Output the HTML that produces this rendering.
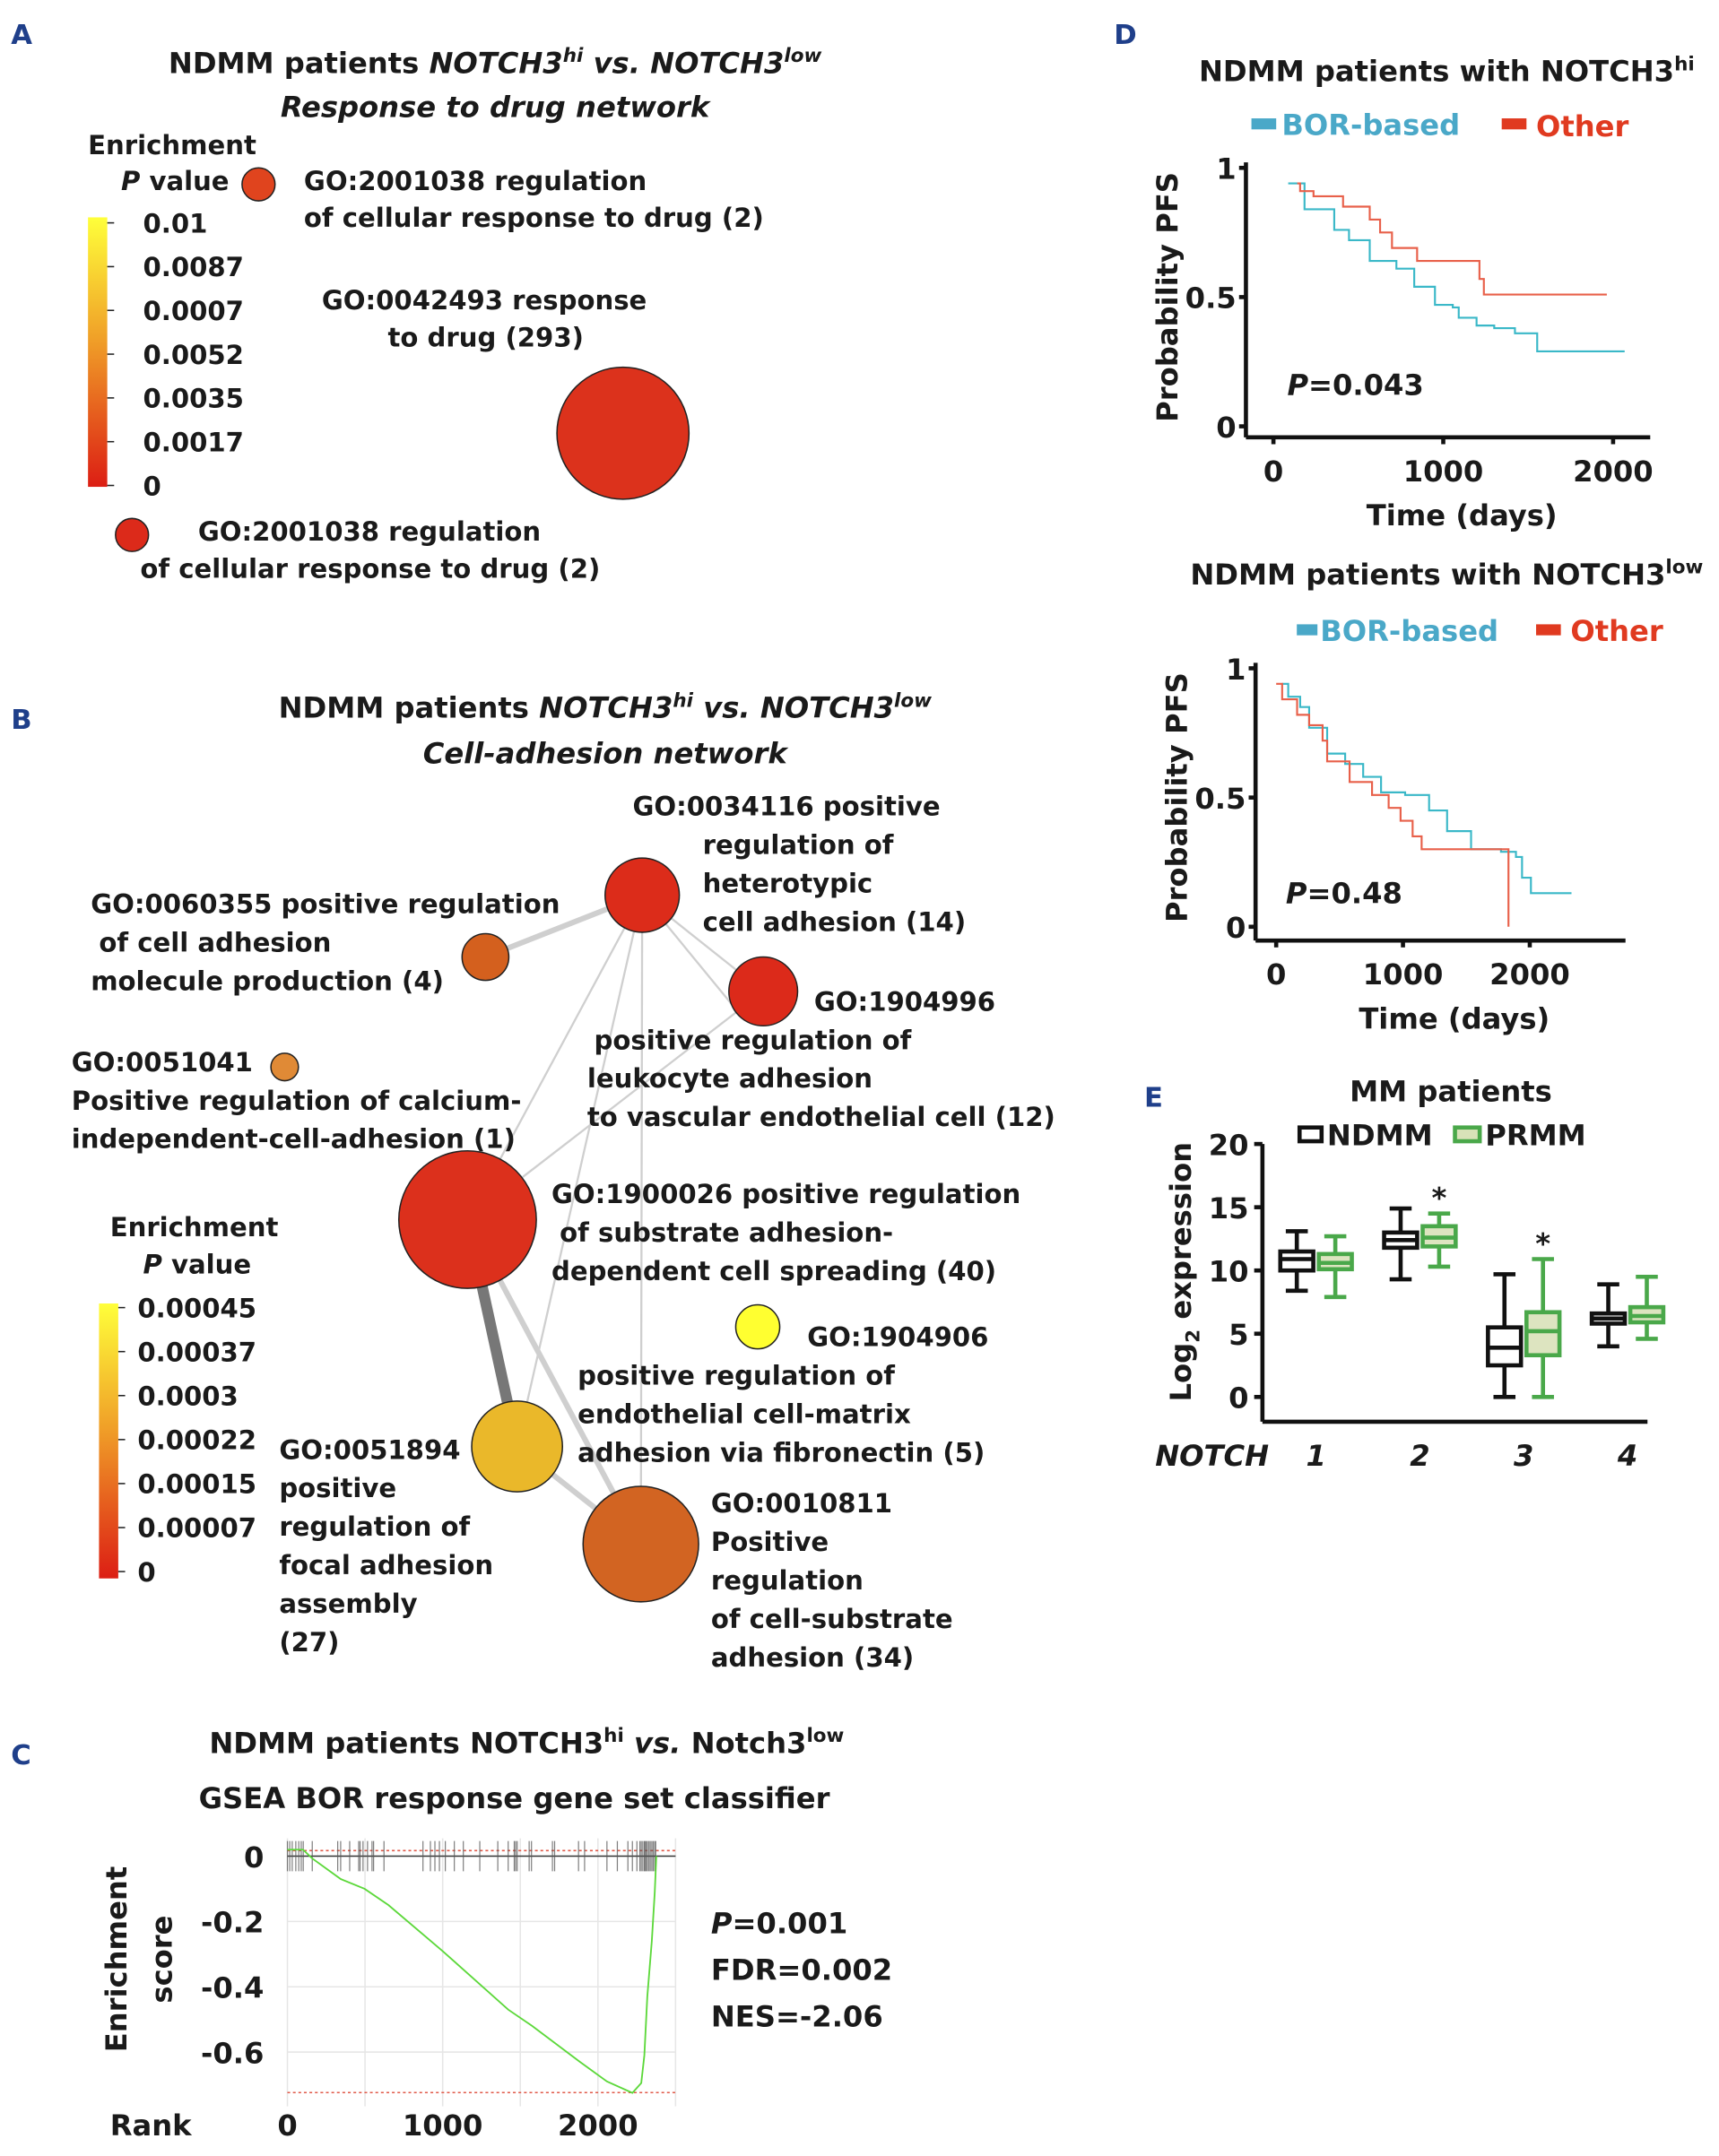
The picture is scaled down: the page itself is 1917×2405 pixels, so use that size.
<!DOCTYPE html>
<html><head><meta charset="utf-8"><style>
html,body{margin:0;padding:0;background:#fff}
svg{display:block}
text{font-family:"DejaVu Sans","Liberation Sans",sans-serif;font-weight:bold;fill:#1a1a1a}
.pl{fill:#1f3f8a;font-size:20px}
.t{font-size:21px}
.n{font-size:19px}
</style></head><body>
<svg id="fig" width="1917" height="2405" viewBox="0 0 1250 1568" xmlns="http://www.w3.org/2000/svg">
<defs>
<linearGradient id="gA" x1="0" y1="0" x2="0" y2="1"><stop offset="0" stop-color="#ffff3a"/><stop offset="0.45" stop-color="#f0a028"/><stop offset="1" stop-color="#dc1e14"/></linearGradient>
</defs>
<!-- Panel A -->
<g>
<text class="pl" x="8" y="32">A</text>
<text class="t" x="360" y="53" text-anchor="middle">NDMM patients <tspan font-style="italic">NOTCH3<tspan font-size="14" dy="-8">hi</tspan><tspan dy="8"> vs. NOTCH3</tspan><tspan font-size="14" dy="-8">low</tspan></tspan></text>
<text class="t" x="360" y="85" text-anchor="middle" font-style="italic">Response to drug network</text>
<text class="n" x="64" y="112">Enrichment</text>
<text class="n" x="88" y="138"><tspan font-style="italic">P</tspan> value</text>
<rect x="64" y="158" width="14" height="196" fill="url(#gA)"/>
<g id="cbA"></g>
<circle cx="188" cy="134" r="12" fill="#e0441e" stroke="#222" stroke-width="1"/>
<circle cx="453" cy="315" r="48" fill="#dc321c" stroke="#222" stroke-width="1"/>
<circle cx="96" cy="389" r="12" fill="#dc2a1a" stroke="#222" stroke-width="1"/>
<text class="n" x="221" y="138">GO:2001038 regulation</text>
<text class="n" x="221" y="165">of cellular response to drug (2)</text>
<text class="n" x="234" y="225">GO:0042493 response</text>
<text class="n" x="282" y="252">to drug (293)</text>
<text class="n" x="144" y="393">GO:2001038 regulation</text>
<text class="n" x="102" y="420">of cellular response to drug (2)</text>
</g>
<!-- Panel B -->
<g>
<text class="pl" x="8" y="530">B</text>
<text class="t" x="440" y="522" text-anchor="middle">NDMM patients <tspan font-style="italic">NOTCH3<tspan font-size="14" dy="-8">hi</tspan><tspan dy="8"> vs. NOTCH3</tspan><tspan font-size="14" dy="-8">low</tspan></tspan></text>
<text class="t" x="440" y="555" text-anchor="middle" font-style="italic">Cell-adhesion network</text>
<g stroke="#cfcfcf" fill="none">
<line x1="467" y1="651" x2="353" y2="696" stroke-width="4"/>
<line x1="467" y1="651" x2="340" y2="887" stroke-width="1.5"/>
<line x1="467" y1="651" x2="376" y2="1052" stroke-width="1.5"/>
<line x1="467" y1="651" x2="466" y2="1123" stroke-width="1.5"/>
<line x1="467" y1="651" x2="555" y2="721" stroke-width="1.5"/>
<line x1="467" y1="651" x2="540" y2="740" stroke-width="1.5"/>
<line x1="340" y1="887" x2="466" y2="1123" stroke-width="4"/>
<line x1="376" y1="1052" x2="466" y2="1123" stroke-width="4"/>
<line x1="555" y1="721" x2="340" y2="887" stroke-width="1.5"/>
<line x1="340" y1="887" x2="376" y2="1052" stroke="#777" stroke-width="8"/>
</g>
<circle cx="467" cy="651" r="27" fill="#dc2c1a" stroke="#222"/>
<circle cx="353" cy="696" r="17" fill="#d4601e" stroke="#222"/>
<circle cx="555" cy="721" r="25" fill="#dc2a1a" stroke="#222"/>
<circle cx="207" cy="776" r="10" fill="#e08a36" stroke="#222"/>
<circle cx="340" cy="887" r="50" fill="#dc301c" stroke="#222"/>
<circle cx="551" cy="965" r="16" fill="#ffff30" stroke="#222"/>
<circle cx="376" cy="1052" r="33" fill="#eab82a" stroke="#222"/>
<circle cx="466" cy="1123" r="42" fill="#d26422" stroke="#222"/>
<g class="n">
<text class="n" x="460" y="593">GO:0034116 positive</text><text class="n" x="511" y="621">regulation of</text><text class="n" x="511" y="649">heterotypic</text><text class="n" x="511" y="677">cell adhesion (14)</text>
<text class="n" x="66" y="664">GO:0060355 positive regulation</text><text class="n" x="72" y="692">of cell adhesion</text><text class="n" x="66" y="720">molecule production (4)</text>
<text class="n" x="592" y="735">GO:1904996</text><text class="n" x="432" y="763">positive regulation of</text><text class="n" x="427" y="791">leukocyte adhesion</text><text class="n" x="427" y="819">to vascular endothelial cell (12)</text>
<text class="n" x="52" y="779">GO:0051041</text><text class="n" x="52" y="807">Positive  regulation of calcium-</text><text class="n" x="52" y="835">independent-cell-adhesion (1)</text>
<text class="n" x="401" y="875">GO:1900026 positive regulation</text><text class="n" x="407" y="903">of substrate adhesion-</text><text class="n" x="401" y="931">dependent cell spreading (40)</text>
<text class="n" x="587" y="979">GO:1904906</text><text class="n" x="420" y="1007">positive regulation of</text><text class="n" x="420" y="1035">endothelial cell-matrix</text><text class="n" x="420" y="1063">adhesion via fibronectin (5)</text>
<text class="n" x="203" y="1061">GO:0051894</text><text class="n" x="203" y="1089">positive</text><text class="n" x="203" y="1117">regulation of</text><text class="n" x="203" y="1145">focal adhesion</text><text class="n" x="203" y="1173">assembly</text><text class="n" x="203" y="1201">(27)</text>
<text class="n" x="517" y="1100">GO:0010811</text><text class="n" x="517" y="1128">Positive</text><text class="n" x="517" y="1156">regulation</text><text class="n" x="517" y="1184">of cell-substrate</text><text class="n" x="517" y="1212">adhesion (34)</text>
</g>
<text class="n" x="80" y="899">Enrichment</text>
<text class="n" x="104" y="926"><tspan font-style="italic">P</tspan> value</text>
<rect x="72" y="948" width="14" height="200" fill="url(#gA)"/>
<g id="cbB"></g>
</g>
<!-- Panel C -->
<g>
<text class="pl" x="8" y="1283">C</text>
<text class="t" x="383" y="1275" text-anchor="middle">NDMM patients NOTCH3<tspan font-size="14" dy="-8">hi</tspan><tspan dy="8" font-style="italic"> vs. </tspan> Notch3<tspan font-size="14" dy="-8">low</tspan></text>
<text class="t" x="374" y="1315" text-anchor="middle">GSEA BOR response gene set classifier</text>
<g id="gsea"></g>
<text class="t" transform="translate(92,1425) rotate(-90)" text-anchor="middle">Enrichment</text>
<text class="t" transform="translate(125,1425) rotate(-90)" text-anchor="middle">score</text>
<text class="t" x="80" y="1553">Rank</text>
<text class="t" x="517" y="1406"><tspan font-style="italic">P</tspan>=0.001</text>
<text class="t" x="517" y="1440">FDR=0.002</text>
<text class="t" x="517" y="1474">NES=-2.06</text>
</g>
<!-- Panel D -->
<g>
<text class="pl" x="810" y="32">D</text>
<text class="t" x="1052" y="59" text-anchor="middle">NDMM patients with NOTCH3<tspan font-size="14" dy="-8">hi</tspan></text>
<rect x="910" y="86" width="18" height="8" fill="#4aa8c8"/>
<text class="t" x="932" y="98" style="fill:#4aa8c8">BOR-based</text>
<rect x="1092" y="86" width="18" height="8" fill="#e03a20"/>
<text class="t" x="1117" y="99" style="fill:#e03a20">Other</text>
<g id="km1"></g>
<text class="t" x="1052" y="425" text-anchor="middle">NDMM patients with NOTCH3<tspan font-size="14" dy="-8">low</tspan></text>
<rect x="943" y="454" width="15" height="8" fill="#4aa8c8"/>
<text class="t" x="960" y="466" style="fill:#4aa8c8">BOR-based</text>
<rect x="1117" y="454" width="18" height="8" fill="#e03a20"/>
<text class="t" x="1142" y="466" style="fill:#e03a20">Other</text>
<g id="km2"></g>
</g>
<!-- Panel E -->
<g>
<text class="pl" x="832" y="805">E</text>
<text class="t" x="1055" y="801" text-anchor="middle">MM patients</text>
<rect x="945" y="820" width="16" height="10" fill="#fff" stroke="#111" stroke-width="3"/>
<text class="t" x="965" y="833">NDMM</text>
<rect x="1058" y="820" width="18" height="10" fill="#d8e2b8" stroke="#4aa84a" stroke-width="3"/>
<text class="t" x="1080" y="833">PRMM</text>
<g id="box"></g>
<text class="t" transform="translate(866,925) rotate(-90)" text-anchor="middle">Log<tspan font-size="14" dy="6">2</tspan><tspan dy="-6"> expression</tspan></text>
<text class="t" x="840" y="1066" font-style="italic">NOTCH</text>
</g>
</svg>
<script>
const NS='http://www.w3.org/2000/svg';
function mk(parent,tag,attrs,txt){const e=document.createElementNS(NS,tag);for(const k in attrs)e.setAttribute(k,attrs[k]);if(txt!==undefined)e.textContent=txt;parent.appendChild(e);return e;}

// ---- colorbars ----
const cbALabels=['0.01','0.0087','0.0007','0.0052','0.0035','0.0017','0'];
const cbBLabels=['0.00045','0.00037','0.0003','0.00022','0.00015','0.00007','0'];
function colorbar(id,labels,x,y0,y1,lx){
  const g=document.getElementById(id);
  labels.forEach((l,i)=>{
    const y=y0+(y1-y0)*i/(labels.length-1);
    const tk=mk(g,'line',{x1:x,y1:y,x2:x+5,y2:y,stroke:'#222','stroke-width':1});
    
    
    const t=mk(g,'text',{x:lx,y:y+7,class:'n'},l);
    
    
  });
}
colorbar('cbA',cbALabels,78,162,353,104);
colorbar('cbB',cbBLabels,86,951,1143,100);

// ---- GSEA ----
const gseaRank=[0,100,160,343,497,651,998,1422,1576,1884,2058,2222,2279,2299,2318,2347,2366,2376];
const gseaES=[0.02,0.02,-0.007,-0.07,-0.10,-0.15,-0.29,-0.47,-0.52,-0.63,-0.69,-0.725,-0.695,-0.61,-0.43,-0.26,-0.11,0];
const gseaHits=[0,15,31,54,73,89,102,160,324,343,401,459,468,487,516,545,555,622,873,921,950,979,1017,1075,1133,1239,1355,1422,1461,1470,1480,1557,1572,1707,1721,1875,1914,2058,2125,2193,2222,2251,2270,2279,2289,2299,2304,2312,2318,2328,2337,2347,2356,2366,2372];
const gseaXTicks=[0,1000,2000];
const gseaYTicks=[0,-0.2,-0.4,-0.6];
(function(){
  const g=document.getElementById('gsea');
  const X=r=>209+r*0.1129, Y=v=>1350-v*237.5;
  for(let r=0;r<=2500;r+=500){mk(g,'line',{x1:X(r),y1:1337,x2:X(r),y2:1532,stroke:'#e6e6e6','stroke-width':1});}
  gseaYTicks.forEach(v=>{if(v!==0)mk(g,'line',{x1:X(0),y1:Y(v),x2:X(2500),y2:Y(v),stroke:'#e6e6e6','stroke-width':1});
    const t=mk(g,'text',{x:192,y:Y(v)+8,'text-anchor':'end',class:'t'},v===0?'0':String(v));
    
    });
  gseaXTicks.forEach(r=>{const t=mk(g,'text',{x:X(r),y:1553,'text-anchor':'middle',class:'t'},String(r));
    
    });
  mk(g,'line',{x1:X(0),y1:Y(0.017),x2:X(2500),y2:Y(0.017),stroke:'#e05a4a','stroke-width':1,'stroke-dasharray':'2,2'});
  mk(g,'line',{x1:X(0),y1:Y(-0.724),x2:X(2500),y2:Y(-0.724),stroke:'#e05a4a','stroke-width':1,'stroke-dasharray':'2,2'});
  mk(g,'line',{x1:X(0),y1:Y(0),x2:X(2500),y2:Y(0),stroke:'#333','stroke-width':1});
  gseaHits.forEach(r=>{const l=mk(g,'line',{x1:X(r),y1:1339,x2:X(r),y2:1361,stroke:'#555','stroke-width':0.8,'stroke-opacity':0.75});
    
    });
  const p=mk(g,'polyline',{points:gseaRank.map((r,i)=>X(r)+','+Y(gseaES[i])).join(' '),fill:'none',stroke:'#5cd83a','stroke-width':1.2});
  
  
})();

// ---- KM ----
const km1TimeBor=[87,183,358,445,567,724,829,951,1056,1091,1196,1300,1422,1553];
const km1SurvBor=[0.94,0.84,0.76,0.72,0.64,0.61,0.54,0.47,0.46,0.42,0.39,0.38,0.36,0.29];
const km1EndBor=2068;
const km1TimeOth=[140,157,236,410,567,628,698,846,1213,1239];
const km1SurvOth=[0.94,0.91,0.89,0.85,0.80,0.75,0.69,0.64,0.57,0.51];
const km1EndOth=1963;
const km2TimeBor=[47,95,189,260,402,544,686,827,1017,1206,1348,1537,1773,1891,1939,2009];
const km2SurvBor=[0.94,0.89,0.85,0.77,0.67,0.63,0.58,0.52,0.51,0.45,0.37,0.30,0.29,0.27,0.19,0.13];
const km2EndBor=2329;
const km2TimeOth=[0,47,165,260,366,402,579,756,887,981,1076,1147,1832];
const km2SurvOth=[0.94,0.88,0.82,0.78,0.72,0.64,0.56,0.51,0.46,0.41,0.35,0.30,0];
const km2EndOth=1832;
const kmXTicks=[0,1000,2000];
const kmYTicks=[0,0.5,1];
function km(id,cfg){
  const g=document.getElementById(id);
  const X=t=>cfg.x0+t*cfg.sx, Y=p=>cfg.y0-p*cfg.sy;
  function step(times,surv,end,color,name){
    let d='M'+X(times[0])+','+Y(surv[0]);
    for(let i=1;i<times.length;i++){d+=' H'+X(times[i])+' V'+Y(surv[i]);}
    if(end>times[times.length-1])d+=' H'+X(end);
    const p=mk(g,'path',{d:d,fill:'none',stroke:color,'stroke-width':1.4});
    
    
  }
  step(cfg.tb,cfg.sb,cfg.eb,'#3ab8c8',id+'-curve-bor');
  step(cfg.to,cfg.so,cfg.eo,'#e8604a',id+'-curve-other');
  mk(g,'line',{x1:cfg.ax,y1:cfg.top,x2:cfg.ax,y2:cfg.axy,stroke:'#111','stroke-width':3});
  mk(g,'line',{x1:cfg.ax,y1:cfg.axy,x2:cfg.right,y2:cfg.axy,stroke:'#111','stroke-width':3});
  kmYTicks.forEach(v=>{mk(g,'line',{x1:cfg.ax-5,y1:Y(v),x2:cfg.ax,y2:Y(v),stroke:'#111','stroke-width':3});
    const t=mk(g,'text',{x:cfg.ax-7,y:Y(v)+8,'text-anchor':'end',class:'t'},String(v));
    
    });
  kmXTicks.forEach(v=>{mk(g,'line',{x1:X(v),y1:cfg.axy,x2:X(v),y2:cfg.axy+5,stroke:'#111','stroke-width':3});
    const t=mk(g,'text',{x:X(v),y:cfg.axy+32,'text-anchor':'middle',class:'t'},String(v));
    
    });
  let t=mk(g,'text',{x:(cfg.ax+cfg.right)/2+10,y:cfg.axy+64,'text-anchor':'middle',class:'t'},'Time (days)');
  
  
  t=mk(g,'text',{transform:'translate('+(cfg.ax-50)+','+Y(0.5)+') rotate(-90)','text-anchor':'middle',class:'t'},'Probability PFS');
  
  
  t=mk(g,'text',{x:cfg.px,y:cfg.py,class:'t'});
  mk(t,'tspan',{'font-style':'italic'},'P');mk(t,'tspan',{},cfg.pv);
  
  
}
km('km1',{x0:926,sx:0.1235,y0:310,sy:188,ax:906,axy:318,top:118,right:1200,tb:km1TimeBor,sb:km1SurvBor,eb:km1EndBor,to:km1TimeOth,so:km1SurvOth,eo:km1EndOth,px:936,py:287,pv:'=0.043'});
km('km2',{x0:928,sx:0.0922,y0:674,sy:188,ax:913,axy:684,top:482,right:1182,tb:km2TimeBor,sb:km2SurvBor,eb:km2EndBor,to:km2TimeOth,so:km2SurvOth,eo:km2EndOth,px:935,py:657,pv:'=0.48'});

// ---- Boxplot ----
const boxGroups=['1','2','3','4'];
const ndmmMin=[8.4,9.3,0,4.0], ndmmQ1=[10.0,11.8,2.5,5.8], ndmmMed=[10.9,12.4,3.9,6.2], ndmmQ3=[11.5,13.0,5.5,6.6], ndmmMax=[13.1,14.9,9.7,8.9];
const prmmMin=[7.9,10.3,0,4.6], prmmQ1=[10.1,11.9,3.3,5.9], prmmMed=[10.6,12.6,5.2,6.4], prmmQ3=[11.3,13.5,6.7,7.1], prmmMax=[12.7,14.5,10.9,9.5];
const boxSignif=[false,true,true,false];
const boxYTicks=[0,5,10,15,20];
(function(){
  const g=document.getElementById('box');
  const Y=v=>1016-v*9.2;
  const gx=i=>957+i*75.5;
  const bw=24;
  mk(g,'line',{x1:918,y1:Y(20),x2:918,y2:1034,stroke:'#111','stroke-width':3});
  mk(g,'line',{x1:918,y1:1034,x2:1198,y2:1034,stroke:'#111','stroke-width':3});
  boxYTicks.forEach(v=>{mk(g,'line',{x1:912,y1:Y(v),x2:918,y2:Y(v),stroke:'#111','stroke-width':3});
    const t=mk(g,'text',{x:908,y:Y(v)+8,'text-anchor':'end',class:'t'},String(v));
    
    });
  function box(cx,mn,q1,md,q3,mx,stroke,fill,name){
    const b=mk(g,'g',{});
    
    
    mk(b,'line',{x1:cx,y1:Y(mx),x2:cx,y2:Y(mn),stroke:stroke,'stroke-width':3});
    mk(b,'line',{x1:cx-8,y1:Y(mx),x2:cx+8,y2:Y(mx),stroke:stroke,'stroke-width':3});
    mk(b,'line',{x1:cx-8,y1:Y(mn),x2:cx+8,y2:Y(mn),stroke:stroke,'stroke-width':3});
    mk(b,'rect',{x:cx-bw/2,y:Y(q3),width:bw,height:Y(q1)-Y(q3),fill:fill,stroke:stroke,'stroke-width':3});
    mk(b,'line',{x1:cx-bw/2,y1:Y(md),x2:cx+bw/2,y2:Y(md),stroke:stroke,'stroke-width':3});
  }
  boxGroups.forEach((lab,i)=>{
    const c=gx(i);
    box(c-14,ndmmMin[i],ndmmQ1[i],ndmmMed[i],ndmmQ3[i],ndmmMax[i],'#111','#fff','box-ndmm-'+lab);
    box(c+14,prmmMin[i],prmmQ1[i],prmmMed[i],prmmQ3[i],prmmMax[i],'#4aa84a','#dde4c0','box-prmm-'+lab);
    if(boxSignif[i]){const s=mk(g,'text',{x:c+14,y:Y(prmmMax[i])-4,'text-anchor':'middle',class:'t'},'*');
      
      }
    const t=mk(g,'text',{x:c,y:1066,'text-anchor':'middle',class:'t','font-style':'italic'},lab);
    
    
  });
})();
</script>
</body></html>
